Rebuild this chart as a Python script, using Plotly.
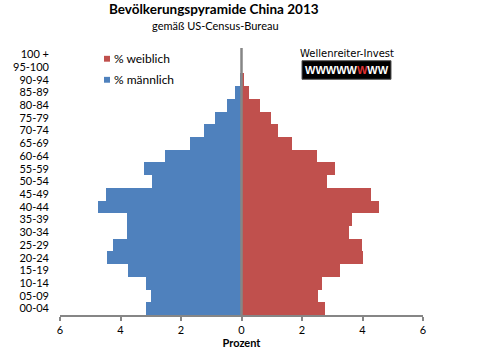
import plotly.graph_objects as go

age_groups = ["00-04", "05-09", "10-14", "15-19", "20-24", "25-29", "30-34", "35-39",
              "40-44", "45-49", "50-54", "55-59", "60-64", "65-69", "70-74", "75-79",
              "80-84", "85-89", "90-94", "95-100", "100 +"]
male_pct = [3.16, 2.99, 3.16, 3.75, 4.45, 4.25, 3.79, 3.79, 4.74, 4.48, 2.96,
            3.22, 2.53, 1.70, 1.24, 0.88, 0.48, 0.21, 0.04, 0.01, 0.0]
female_pct = [2.76, 2.53, 2.66, 3.26, 4.02, 3.98, 3.55, 3.65, 4.55, 4.28, 2.83,
              3.09, 2.50, 1.67, 1.21, 0.98, 0.61, 0.25, 0.08, 0.01, 0.0]
x_ticks = [-6, -4, -2, 0, 2, 4, 6]
x_tick_labels = ["6", "4", "2", "0", "2", "4", "6"]
legend_names = ["% weiblich", "% männlich"]

FONT = "Lato"
W, H = 481, 358
L, R, T, B = 60, 58, 48, 37
PW, PH = W - L - R, H - T - B

def fx(p):
    return (p - L) / PW

def fy(p):
    return (H - B - p) / PH

RED, BLUE = "#C0504D", "#4F81BD"

fig = go.Figure()
fig.add_trace(go.Bar(y=age_groups, x=female_pct, orientation="h", name=legend_names[0],
                     marker=dict(color=RED, line=dict(width=0))))
fig.add_trace(go.Bar(y=age_groups, x=[-v for v in male_pct], orientation="h", name=legend_names[1],
                     marker=dict(color=BLUE, line=dict(width=0))))

shapes = [
    dict(type="line", xref="x", yref="paper", x0=0, x1=0, y0=0, y1=1,
         line=dict(color="#868686", width=2.5), layer="above"),
    dict(type="rect", xref="paper", yref="paper",
         x0=fx(302), x1=fx(391), y0=fy(80), y1=fy(61),
         fillcolor="black", line=dict(color="#555555", width=1), layer="above"),
]
annotations = [
    dict(text="<b>Bevölkerungspyramide China 2013</b>", xref="paper", yref="paper",
         x=fx(214), y=fy(8), xanchor="center", yanchor="middle", showarrow=False,
         font=dict(family=FONT, size=13.5)),
    dict(text="gemäß US-Census-Bureau", xref="paper", yref="paper",
         x=fx(215), y=fy(25), xanchor="center", yanchor="middle", showarrow=False,
         font=dict(family=FONT, size=11)),
    dict(text="Wellenreiter-Invest", xref="paper", yref="paper",
         x=fx(347), y=fy(54), xanchor="center", yanchor="middle", showarrow=False,
         font=dict(family="DejaVu Sans", size=10)),
    dict(text="<b>WWWWW<span style='color:#E03030'>W</span>WW</b>", xref="paper", yref="paper",
         x=fx(346.5), y=fy(71), xanchor="center", yanchor="middle", showarrow=False,
         font=dict(family="Liberation Sans", size=11, color="white")),
]
# legend drawn as shapes + text
for name, col, yc in [(legend_names[0], RED, 59), (legend_names[1], BLUE, 80.5)]:
    shapes.append(dict(type="rect", xref="paper", yref="paper",
                       x0=fx(104), x1=fx(110), y0=fy(yc + 3), y1=fy(yc - 3),
                       fillcolor=col, line=dict(width=0), layer="above"))
    annotations.append(dict(text=name, xref="paper", yref="paper",
                            x=fx(112), y=fy(yc), xanchor="left", yanchor="middle",
                            showarrow=False, font=dict(family=FONT, size=12)))

fig.update_layout(
    width=W, height=H,
    margin=dict(l=L, r=R, t=T, b=B),
    barmode="overlay", bargap=0,
    paper_bgcolor="white", plot_bgcolor="white",
    font=dict(family=FONT, size=11, color="#000000"),
    showlegend=False,
    xaxis=dict(range=[-6, 6], tickvals=x_ticks, ticktext=x_tick_labels,
               showgrid=False, zeroline=False, showline=True, linecolor="#868686",
               linewidth=2, ticks="outside", ticklen=4, tickcolor="#868686", tickwidth=2,
               tickfont=dict(family=FONT, size=11),
               title=dict(text="<b>Prozent</b>", font=dict(family=FONT, size=11), standoff=2)),
    yaxis=dict(type="category", categoryorder="array", categoryarray=age_groups,
               tickmode="array", tickvals=age_groups, ticktext=age_groups,
               showgrid=False, zeroline=False, showline=False, ticks="",
               ticklabelstandoff=10, tickfont=dict(family=FONT, size=11)),
    shapes=shapes,
    annotations=annotations,
)

fig.write_html("out.html")
